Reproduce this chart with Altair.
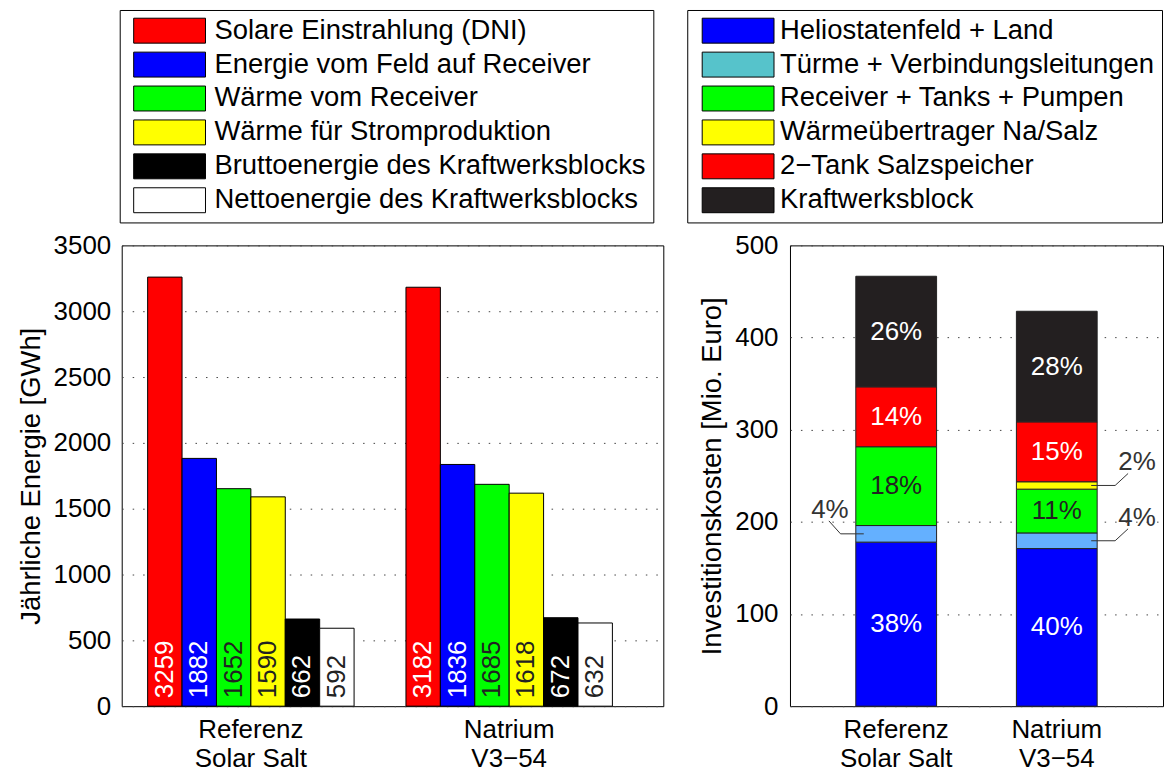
import altair as alt
import pandas as pd

# ---------------- data ----------------
scenarios = ["Referenz\nSolar Salt", "Natrium\nV3\u221254"]

energy_series = [
    "Solare Einstrahlung (DNI)",
    "Energie vom Feld auf Receiver",
    "Wärme vom Receiver",
    "Wärme für Stromproduktion",
    "Bruttoenergie des Kraftwerksblocks",
    "Nettoenergie des Kraftwerksblocks",
]
energy_referenz = [3259, 1882, 1652, 1590, 662, 592]
energy_natrium = [3182, 1836, 1685, 1618, 672, 632]

cost_components = [
    "Heliostatenfeld + Land",
    "Türme + Verbindungsleitungen",
    "Receiver + Tanks + Pumpen",
    "Wärmeübertrager Na/Salz",
    "2\u2212Tank Salzspeicher",
    "Kraftwerksblock",
]
cost_referenz = [178, 18, 85.5, 0, 65, 120]
cost_natrium = [171, 17, 47.5, 8, 65, 120]

energy_ticks = [0, 500, 1000, 1500, 2000, 2500, 3000, 3500]
cost_ticks = [0, 100, 200, 300, 400, 500]

# ---------------- styles ----------------
FONT = "Liberation Sans"
energy_colors = ["#FF0000", "#0000FF", "#00FF00", "#FFFF00", "#000000", "#FFFFFF"]
energy_dark_labels = [energy_series[2], energy_series[3], energy_series[5]]
cost_colors = ["#0000FF", "#56C3CB", "#00FF00", "#FFFF00", "#FF0000", "#231F20"]
TUERME_BAR = "#64B0FF"
SYMBOL = "M-2.88,-1L2.88,-1L2.88,1L-2.88,1Z"
LEG_FS = 27.5

rows = []
for si, (s, vals) in enumerate(zip(scenarios, [energy_referenz, energy_natrium])):
    for i, (ser, v) in enumerate(zip(energy_series, vals)):
        rows.append({"scenario": s, "sidx": si, "series": ser, "idx": i, "value": v})
energy_df = pd.DataFrame(rows)

rows = []
for si, (s, vals) in enumerate(zip(scenarios, [cost_referenz, cost_natrium])):
    for i, (c, v) in enumerate(zip(cost_components, vals)):
        rows.append({"scenario": s, "sidx": si, "component": c, "idx": i, "value": v})
cost_df = pd.DataFrame(rows)

label_expr = "split(datum.label, '\\n')"


def legend(x, y, sym_off, lab_off):
    return alt.Legend(
        title=None, orient="none", legendX=x, legendY=y, direction="vertical",
        symbolType=SYMBOL, symbolSize=625, symbolStrokeColor="black",
        symbolStrokeWidth=1, symbolOffset=sym_off, labelOffset=lab_off,
        labelFont=FONT, labelFontSize=LEG_FS, labelColor="black", labelLimit=1000,
        padding=7, rowPadding=4, strokeColor="black", fillColor="white",
    )


# ---------------- left: annual energy ----------------
x_left = alt.X(
    "scenario:N", sort=scenarios, title=None,
    scale=alt.Scale(paddingInner=0, paddingOuter=0.0483, align=0),
    axis=alt.Axis(labelExpr=label_expr, labelAngle=0, labelPadding=10,
                  labelLineHeight=29, grid=False),
)
xoff_left = alt.XOffset(
    "series:N", sort=energy_series,
    scale=alt.Scale(paddingInner=0, paddingOuter=0.754),
)
y_left = alt.Y(
    "value:Q", title="Jährliche Energie [GWh]",
    scale=alt.Scale(domain=[0, 3500], nice=False),
    axis=alt.Axis(values=energy_ticks, format="d", labelPadding=11, titlePadding=8),
)

energy_base = alt.Chart(energy_df)
left_bars = energy_base.mark_bar(stroke="black", strokeWidth=1).encode(
    x=x_left, xOffset=xoff_left, y=y_left,
    fill=alt.Fill(
        "series:N", sort=energy_series,
        scale=alt.Scale(domain=energy_series, range=energy_colors),
        legend=legend(-2, -236, 29.25, 31.25),
    ),
)
left_text = energy_base.mark_text(
    angle=270, align="left", baseline="middle", dx=8, font=FONT, fontSize=26
).encode(
    x=x_left, xOffset=xoff_left, y=alt.datum(0),
    text=alt.Text("value:Q", format="d"),
    fill=alt.condition(
        alt.FieldOneOfPredicate(field="series", oneOf=energy_dark_labels),
        alt.value("#222222"), alt.value("white"),
    ),
)
left = alt.layer(left_bars, left_text).properties(width=543, height=462)

# ---------------- right: investment costs ----------------
right_scale = alt.Scale(paddingInner=0.497, paddingOuter=0.41, align=0.5)
right_axis = alt.Axis(labelExpr=label_expr, labelAngle=0, labelPadding=10,
                      labelLineHeight=29, grid=False)
x_right = alt.X("scenario:N", sort=scenarios, title=None, bandPosition=0.5,
                scale=right_scale, axis=right_axis)
x2_right = alt.X2("scenario:N", bandPosition=0.5)
y_right_scale = alt.Scale(domain=[0, 500], nice=False)

cost_base = alt.Chart(cost_df).transform_joinaggregate(
    total="sum(value)", groupby=["scenario"]
).transform_stack(
    stack="value", groupby=["scenario"], as_=["v0", "v1"],
    sort=[alt.SortField("idx", order="ascending")],
).transform_calculate(
    mid="(datum.v0 + datum.v1) / 2",
    pct="round(datum.value / datum.total * 100)",
).transform_calculate(
    pct_label="format(datum.pct, 'd') + '%'"
)

right_bars = cost_base.transform_filter("datum.value > 0").mark_bar(
    stroke="#222222", strokeWidth=1
).encode(
    x=alt.X("scenario:N", sort=scenarios, title=None, scale=right_scale, axis=right_axis),
    y=alt.Y("v0:Q", title="Investitionskosten [Mio. Euro]", scale=y_right_scale,
            axis=alt.Axis(values=cost_ticks, labelPadding=12, titlePadding=8)),
    y2="v1:Q",
    fill=alt.Fill(
        "component:N", sort=cost_components,
        scale=alt.Scale(domain=cost_components, range=cost_colors),
        legend=legend(-103, -236, 30.25, 28.25),
        condition={"test": f"datum.component === '{cost_components[1]}'",
                   "value": TUERME_BAR},
    ),
)

inbar = cost_base.transform_filter("datum.pct >= 5").mark_text(
    font=FONT, fontSize=26, baseline="middle", align="center"
).encode(
    x=x_right, y=alt.Y("mid:Q", scale=y_right_scale), text="pct_label:N",
    fill=alt.condition(
        alt.FieldEqualPredicate(field="component", equal=cost_components[2]),
        alt.value("#222222"), alt.value("white"),
    ),
)

small = cost_base.transform_filter("datum.value > 0 && datum.pct < 5")
small_l = small.transform_filter("datum.sidx == 0")
small_r = small.transform_filter("datum.sidx == 1")
LC = "#333333"

lh = small_l.mark_rule(color=LC, strokeWidth=1, xOffset=-55.8, x2Offset=-32.5).encode(
    x=x_right, x2=x2_right, y=alt.Y("mid:Q", scale=y_right_scale))
ld = small_l.mark_rule(color=LC, strokeWidth=1, xOffset=-55.8, x2Offset=-67.5,
                       y2Offset=-13).encode(
    x=x_right, x2=x2_right, y=alt.Y("mid:Q", scale=y_right_scale), y2="mid:Q")
lt = small_l.mark_text(font=FONT, fontSize=26, color=LC, dx=-66.5, dy=-24,
                       baseline="middle", align="center").encode(
    x=x_right, y=alt.Y("mid:Q", scale=y_right_scale), text="pct_label:N")

rh = small_r.mark_rule(color=LC, strokeWidth=1, xOffset=34.5, x2Offset=58.5).encode(
    x=x_right, x2=x2_right, y=alt.Y("mid:Q", scale=y_right_scale))
rd = small_r.mark_rule(color=LC, strokeWidth=1, xOffset=58.5, x2Offset=71.5,
                       y2Offset=-12).encode(
    x=x_right, x2=x2_right, y=alt.Y("mid:Q", scale=y_right_scale), y2="mid:Q")
rt = small_r.mark_text(font=FONT, fontSize=26, color=LC, dx=80.5, dy=-23,
                       baseline="middle", align="center").encode(
    x=x_right, y=alt.Y("mid:Q", scale=y_right_scale), text="pct_label:N")

right = alt.layer(right_bars, inbar, lh, ld, lt, rh, rd, rt).properties(
    width=374, height=462)

chart = alt.hconcat(left, right, spacing=22).resolve_scale(
    fill="independent", y="independent", x="independent"
).resolve_legend(fill="independent").configure_view(
    stroke="black", strokeWidth=1
).configure_axis(
    labelFont=FONT, titleFont=FONT, labelFontSize=26, titleFontSize=27.5,
    titleFontWeight="normal", labelColor="black", titleColor="black",
    domain=False, ticks=False, gridColor="#444444", gridDash=[1.5, 9],
    gridWidth=1, gridOpacity=1,
).properties(
    padding={"left": 8, "top": 0, "right": 0, "bottom": 0},
    background="white",
)

chart.save("out.html", embed_options={"renderer": "svg", "actions": False})
